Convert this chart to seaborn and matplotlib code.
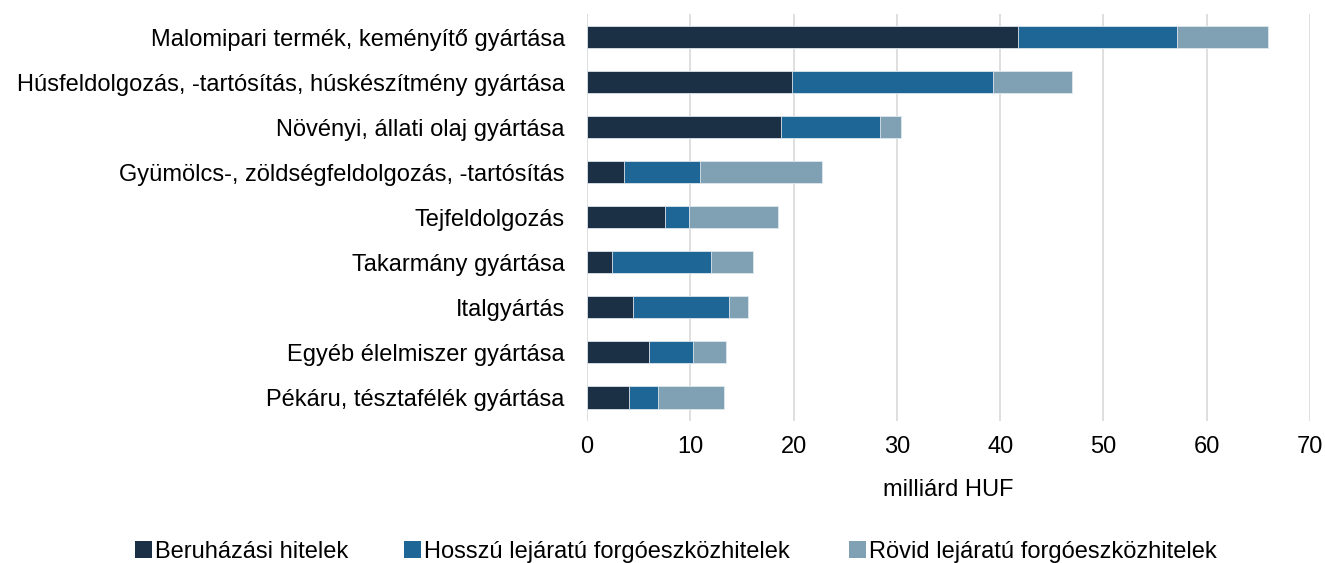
import matplotlib
matplotlib.use("Agg")
import matplotlib.pyplot as plt
import seaborn as sns
import pandas as pd
import numpy as np
from matplotlib.patches import Patch

categories = [
    "Malomipari termék, keményítő gyártása",
    "Húsfeldolgozás, -tartósítás, húskészítmény gyártása",
    "Növényi, állati olaj gyártása",
    "Gyümölcs-, zöldségfeldolgozás, -tartósítás",
    "Tejfeldolgozás",
    "Takarmány gyártása",
    "Italgyártás",
    "Egyéb élelmiszer gyártása",
    "Pékáru, tésztafélék gyártása",
]
beruhazasi = [41.7, 19.8, 18.8, 3.6, 7.6, 2.4, 4.5, 6.0, 4.1]
hosszu = [15.4, 19.5, 9.6, 7.3, 2.3, 9.6, 9.2, 4.3, 2.8]
rovid = [8.8, 7.7, 2.0, 11.9, 8.6, 4.1, 1.9, 3.2, 6.4]
series_names = [
    "Beruházási hitelek",
    "Hosszú lejáratú forgóeszközhitelek",
    "Rövid lejáratú forgóeszközhitelek",
]
colors = ["#1b3045", "#1d6696", "#80a1b4"]
x_ticks = [0, 10, 20, 30, 40, 50, 60, 70]
x_label = "milliárd HUF"

sns.set_theme(style="white")
plt.rcParams["font.family"] = ["Liberation Sans", "DejaVu Sans"]

df = pd.DataFrame({
    "kategoria": categories,
    "b": beruhazasi,
    "h": hosszu,
    "r": rovid,
})
df["c1"] = df["b"]
df["c2"] = df["b"] + df["h"]
df["c3"] = df["c2"] + df["r"]

fig = plt.figure(figsize=(13.25, 5.63), dpi=100)
ax = fig.add_axes([587 / 1325, 0.252, (1310 - 587) / 1325, 0.723])

# stacked bars: draw cumulative totals from the back to the front
for col, color in zip(["c3", "c2", "c1"], colors[::-1]):
    sns.barplot(data=df, x=col, y="kategoria", order=categories, orient="h",
                color=color, saturation=1, width=0.5, ax=ax,
                edgecolor="#dfe7ee", linewidth=0.6, zorder=3)

ax.set_xlim(0, 70)
ax.set_ylim(8.53, -0.51)
ax.set_xticks(x_ticks)
ax.set_xticklabels([str(t) for t in x_ticks])
ax.grid(axis="x", color="#d9d9d9", linewidth=1.2, zorder=0)
ax.grid(axis="y", visible=False)
for s in ax.spines.values():
    s.set_visible(False)
ax.tick_params(axis="both", length=0, labelsize=17, colors="#000000")
ax.tick_params(axis="y", pad=16)
ax.tick_params(axis="x", pad=11)
ax.set_ylabel("")
ax.set_xlabel(x_label, fontsize=17, labelpad=15, color="#000000")

# one legend entry per slot along the bottom
legend_x = [135, 404, 849]
for name, color, lx in zip(series_names, colors, legend_x):
    fig.legend([Patch(facecolor=color, edgecolor="none")], [name],
               loc="center left", bbox_to_anchor=(lx / 1325, 1 - 552 / 563),
               frameon=False, fontsize=17, handlelength=0.7,
               handleheight=0.7, handletextpad=0.15, borderpad=0,
               borderaxespad=0, labelcolor="#000000")

fig.savefig("out.png", dpi=100)
